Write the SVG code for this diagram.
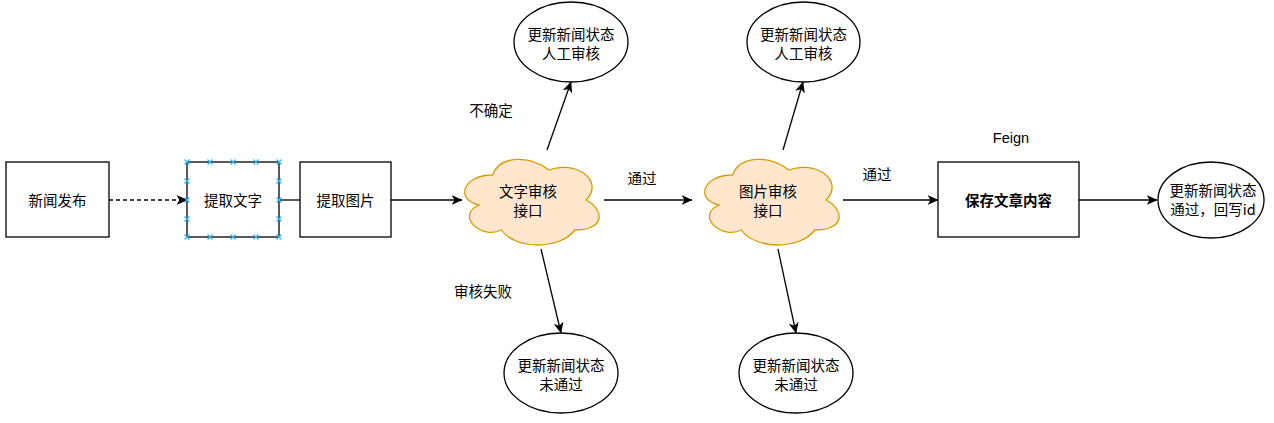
<svg xmlns="http://www.w3.org/2000/svg" width="1274" height="423" viewBox="0 0 1274 423">
  <style>
    .box { fill: #ffffff; stroke: #000000; stroke-width: 1.3; }
    .ell { fill: #ffffff; stroke: #000000; stroke-width: 1.3; }
    .cloud { fill: #ffe6cc; stroke: #d79b00; stroke-width: 1.3; }
    .t { font-family: "Noto Sans CJK SC", "Liberation Sans", sans-serif; font-size: 14.5px; fill: #000000; text-anchor: middle; }
    .b { font-weight: bold; }
    .lat { font-family: "Liberation Sans", "Noto Sans CJK SC", sans-serif; }
    .edge { fill: none; stroke: #000000; stroke-width: 1.3; }
    .dash { stroke-dasharray: 4 3; }
    .pt { stroke: #29b6f2; stroke-width: 1.2; fill: none; }
  </style>
  <defs>
    <marker id="arrow" viewBox="0 0 11 10" refX="10.5" refY="5" markerWidth="11" markerHeight="10" markerUnits="userSpaceOnUse" orient="auto">
      <path d="M0,0 L11,5 L0,10 L3,5 Z" fill="#000000" stroke="none"/>
    </marker>
    <path id="cloudshape" d="M 37.5 25 C 7.5 25 0 50 24 55 C 0 66 27 90 46.5 80 C 60 100 105 100 120 80 C 150 80 150 60 131.25 50 C 150 30 120 10 93.75 20 C 75 5 45 5 37.5 25 Z"/>
    <path id="xm" d="M -2.5 -2.5 L 2.5 2.5 M -2.5 2.5 L 2.5 -2.5"/>
  </defs>

  <g id="connectors">
    <line class="edge dash" x1="109" y1="200" x2="187" y2="200" marker-end="url(#arrow)"/>
    <line class="edge" x1="279" y1="200" x2="300" y2="200"/>
    <line class="edge" x1="391" y1="200" x2="462" y2="200" marker-end="url(#arrow)"/>
    <line class="edge" x1="604" y1="200" x2="692" y2="200" marker-end="url(#arrow)"/>
    <line class="edge" x1="843" y1="200" x2="938" y2="200" marker-end="url(#arrow)"/>
    <line class="edge" x1="1079" y1="200" x2="1157" y2="200" marker-end="url(#arrow)"/>
    <line class="edge" x1="547" y1="150" x2="571" y2="82" marker-end="url(#arrow)"/>
    <line class="edge" x1="783" y1="150" x2="803" y2="82" marker-end="url(#arrow)"/>
    <line class="edge" x1="541" y1="249" x2="561" y2="333" marker-end="url(#arrow)"/>
    <line class="edge" x1="778" y1="249" x2="796" y2="333" marker-end="url(#arrow)"/>
  </g>

  <g id="labels">
    <text class="t" x="642" y="184">通过</text>
    <text class="t" x="877" y="180">通过</text>
    <text class="t" x="491" y="115.5">不确定</text>
    <text class="t" x="483" y="296.5">审核失败</text>
    <text class="t lat" x="1011" y="143">Feign</text>
  </g>

  <g id="node-publish">
    <rect class="box" x="6" y="162" width="103" height="75"/>
    <text class="t" x="57.5" y="205.5">新闻发布</text>
  </g>

  <g id="node-extract-text">
    <rect class="box" x="187" y="162" width="92" height="75"/>
    <text class="t" x="233" y="205.5">提取文字</text>
    <g class="pt">
      <use href="#xm" x="187" y="162"/><use href="#xm" x="210" y="162"/><use href="#xm" x="233" y="162"/><use href="#xm" x="256" y="162"/><use href="#xm" x="279" y="162"/>
      <use href="#xm" x="187" y="237"/><use href="#xm" x="210" y="237"/><use href="#xm" x="233" y="237"/><use href="#xm" x="256" y="237"/><use href="#xm" x="279" y="237"/>
      <use href="#xm" x="187" y="181"/><use href="#xm" x="187" y="200"/><use href="#xm" x="187" y="219"/>
      <use href="#xm" x="279" y="181"/><use href="#xm" x="279" y="200"/><use href="#xm" x="279" y="219"/>
    </g>
  </g>

  <g id="node-extract-image">
    <rect class="box" x="300" y="162" width="91" height="75"/>
    <text class="t" x="345.5" y="205.5">提取图片</text>
  </g>

  <g id="node-text-audit">
    <use href="#cloudshape" class="cloud" x="455" y="150"/>
    <text class="t" x="528" y="197">文字审核</text>
    <text class="t" x="528" y="216">接口</text>
  </g>

  <g id="node-image-audit">
    <use href="#cloudshape" class="cloud" x="695" y="150"/>
    <text class="t" x="768" y="197">图片审核</text>
    <text class="t" x="768" y="216">接口</text>
  </g>

  <g id="node-save">
    <rect class="box" x="938" y="162" width="141" height="75"/>
    <text class="t b" x="1008.5" y="205.5">保存文章内容</text>
  </g>

  <g id="node-pass">
    <ellipse class="ell" cx="1211" cy="200" rx="53" ry="38"/>
    <text class="t" x="1213" y="195.5">更新新闻状态</text>
    <text class="t" x="1213" y="215">通过，回写id</text>
  </g>

  <g id="node-manual-1">
    <ellipse class="ell" cx="571" cy="42" rx="57" ry="40"/>
    <text class="t" x="571" y="39.5">更新新闻状态</text>
    <text class="t" x="571" y="59">人工审核</text>
  </g>

  <g id="node-manual-2">
    <ellipse class="ell" cx="803.5" cy="42" rx="56.5" ry="40"/>
    <text class="t" x="803.5" y="39.5">更新新闻状态</text>
    <text class="t" x="803.5" y="59">人工审核</text>
  </g>

  <g id="node-fail-1">
    <ellipse class="ell" cx="561" cy="373" rx="57" ry="40"/>
    <text class="t" x="561" y="370.5">更新新闻状态</text>
    <text class="t" x="561" y="390">未通过</text>
  </g>

  <g id="node-fail-2">
    <ellipse class="ell" cx="796" cy="373" rx="57" ry="40"/>
    <text class="t" x="796" y="370.5">更新新闻状态</text>
    <text class="t" x="796" y="390">未通过</text>
  </g>
</svg>
